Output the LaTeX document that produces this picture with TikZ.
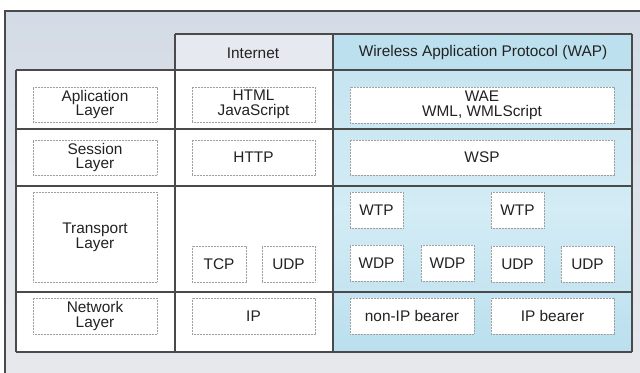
\documentclass[tikz,border=0pt]{standalone}
\usepackage{fontspec}
\setmainfont{Liberation Sans}
\definecolor{panelTop}{HTML}{D3DBE6}
\definecolor{panelBot}{HTML}{E8E9EC}
\definecolor{netHead}{HTML}{E6EAF0}
\definecolor{wapHead}{HTML}{BDE0EE}
\definecolor{wapTop}{HTML}{C6E5F1}
\definecolor{wapMid}{HTML}{D3ECF5}
\definecolor{wapBot}{HTML}{BADFEE}
\definecolor{rule}{HTML}{4A4A4A}
\definecolor{ink}{HTML}{222222}
\tikzset{
  grid/.style={draw=rule, line width=0.6pt},
  cell/.style={draw=gray!75, fill=white, line width=0.35pt,
    dash pattern=on 0.4pt off 0.35pt, inner sep=0pt, align=center,
    text=ink, font=\fontsize{7.7}{7.3}\selectfont},
  lbl/.style={text=ink, font=\fontsize{7.7}{7.3}\selectfont}
}
\begin{document}
\begin{tikzpicture}[x=0.5pt,y=-0.5pt]
\useasboundingbox (0,0) rectangle (640,372);
\clip (0,0) rectangle (640,372);
% background panel
\fill[white] (0,0) rectangle (640,372);
\shade[top color=panelTop, bottom color=panelBot] (5,11) rectangle (660,400);
\draw[rule, line width=0.6pt] (660,11) -- (5,11) -- (5,400);
% table body
\fill[white] (16,70) rectangle (333,352);
\fill[netHead] (175,34) rectangle (333,70);
\shade[top color=wapTop, bottom color=wapBot, middle color=wapMid] (333,70) rectangle (632,352);
\fill[wapHead] (333,34) rectangle (632,70);
% table rules
\draw[grid] (175,34) -- (632,34);
\draw[grid] (16,70) -- (632,70);
\draw[grid] (16,129) -- (632,129);
\draw[grid] (16,186) -- (632,186);
\draw[grid] (16,292) -- (632,292);
\draw[grid] (16,352) -- (632,352);
\draw[grid] (16,70) -- (16,352);
\draw[grid] (175,34) -- (175,352);
\draw[grid] (333,34) -- (333,352);
\draw[grid] (632,34) -- (632,352);
% column headers
\node[lbl] (hnet) at (253,53) {Internet};
\node[lbl] (hwap) at (483,53) {Wireless Application Protocol (WAP)};
% application row
\node[cell, minimum width=62pt, minimum height=17.5pt] (appl) at (95,104.5) {Aplication\\Layer};
\node[cell, minimum width=61.5pt, minimum height=17.5pt] (html) at (253.5,104.5) {HTML\\JavaScript};
\node[cell, minimum width=132pt, minimum height=18pt] (wae) at (482,105) {WAE\\WML, WMLScript};
% session row
\node[cell, minimum width=62pt, minimum height=17.5pt] (sess) at (95,157.5) {Session\\Layer};
\node[cell, minimum width=61.5pt, minimum height=17.5pt] (http) at (253.5,157.5) {HTTP};
\node[cell, minimum width=132pt, minimum height=17.5pt] (wsp) at (482,157.5) {WSP};
% transport row
\node[cell, minimum width=62pt, minimum height=45pt] (trans) at (95,237) {Transport\\Layer};
\node[cell, minimum width=27pt, minimum height=18pt] (tcp) at (219,264) {TCP};
\node[cell, minimum width=26.5pt, minimum height=18pt] (udp) at (288.5,264) {UDP};
\node[cell, minimum width=26.5pt, minimum height=18pt] (wtpa) at (376.5,210) {WTP};
\node[cell, minimum width=26.5pt, minimum height=18pt] (wtpb) at (517.5,210) {WTP};
\node[cell, minimum width=26.5pt, minimum height=18pt] (wdpa) at (376.5,263) {WDP};
\node[cell, minimum width=26.5pt, minimum height=18pt] (wdpb) at (447.5,263) {WDP};
\node[cell, minimum width=26.5pt, minimum height=18pt] (udpa) at (517.5,264) {UDP};
\node[cell, minimum width=26.5pt, minimum height=18pt] (udpb) at (587.5,264) {UDP};
% network row
\node[cell, minimum width=62pt, minimum height=18pt] (net) at (95,316) {Network\\Layer};
\node[cell, minimum width=61.5pt, minimum height=18pt] (ip) at (253.5,316) {IP};
\node[cell, minimum width=62pt, minimum height=18pt] (nonip) at (412,316) {non-IP bearer};
\node[cell, minimum width=61.5pt, minimum height=18pt] (ipb) at (552.5,316) {IP bearer};
\end{tikzpicture}
\end{document}
